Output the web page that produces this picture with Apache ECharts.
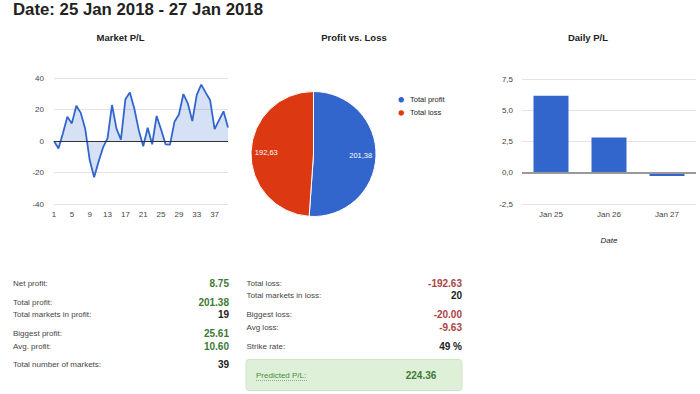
<!DOCTYPE html>
<html><head><meta charset="utf-8">
<script src="https://cdn.jsdelivr.net/npm/echarts/dist/echarts.min.js"></script>
<style>html,body{margin:0;padding:0;background:#fff}#c{width:700px;height:394px}</style>
</head><body><div id="c"></div>
<script>
// ---- data ----
const headerText = 'Date: 25 Jan 2018 - 27 Jan 2018';
const marketIdx = ['1','2','3','4','5','6','7','8','9','10','11','12','13','14','15','16','17','18','19','20',
  '21','22','23','24','25','26','27','28','29','30','31','32','33','34','35','36','37','38','39','40'];
const marketPL = [0, -4.7, 5, 15.5, 11.3, 22.5, 18, 7.8, -12, -23, -13, -4, 1.8, 23, 8, 1, 26.6, 31, 20.8, 7,
  -3.2, 8.5, -2, 16, 7.4, -2, -2.2, 12.3, 17, 30, 24, 12.8, 29.4, 36, 30.9, 26, 7.7, 13.4, 19, 8.75];
const pieNames = ['Total profit', 'Total loss'];
const pieValues = [201.38, 192.63];
const dayLabels = ['Jan 25', 'Jan 26', 'Jan 27'];
const dailyPL = [6.17, 2.83, -0.25];
const leftLabels = ['Net profit:', 'Total profit:', 'Total markets in profit:', 'Biggest profit:', 'Avg. profit:', 'Total number of markets:'];
const leftValues = ['8.75', '201.38', '19', '25.61', '10.60', '39'];
const leftKinds = ['pos', 'pos', 'plain', 'pos', 'pos', 'plain'];
const rightLabels = ['Total loss:', 'Total markets in loss:', 'Biggest loss:', 'Avg loss:', 'Strike rate:'];
const rightValues = ['-192.63', '20', '-20.00', '-9.63', '49 %'];
const rightKinds = ['neg', 'plain', 'neg', 'neg', 'plain'];
const predictedLabel = 'Predicted P/L:';
const predictedValue = '224.36';

// ---- layout / style ----
const F = 'Arial, "Liberation Sans", sans-serif';
const BLUE = '#3366cc', RED = '#dc3912';
const kindColor = {pos: '#3d7a35', neg: '#a94442', plain: '#222'};
const leftRowY = [283, 302.3, 314, 333.3, 346, 364.7];
const rightRowY = [283.3, 295, 314.3, 327.3, 346.7];

function txt(x, y, text, font, fill, align) {
  return {type: 'text', x: x, y: y, silent: true,
    style: {text: text, font: font, fill: fill, align: align || 'left', textAlign: align || 'left',
      verticalAlign: 'middle', textVerticalAlign: 'middle'}};
}
const g = [];
g.push(txt(13, 9.5, headerText, 'bold 16.8px ' + F, '#222'));
g.push(txt(120.5, 37, 'Market P/L', 'bold 9.5px ' + F, '#222', 'center'));
g.push(txt(354, 37, 'Profit vs. Loss', 'bold 9.5px ' + F, '#222', 'center'));
g.push(txt(588, 37, 'Daily P/L', 'bold 9.5px ' + F, '#222', 'center'));
leftLabels.forEach((l, i) => {
  g.push(txt(13, leftRowY[i], l, '8px ' + F, '#444'));
  g.push(txt(229, leftRowY[i], leftValues[i], 'bold 10px ' + F, kindColor[leftKinds[i]], 'right'));
});
rightLabels.forEach((l, i) => {
  g.push(txt(246.5, rightRowY[i], l, '8px ' + F, '#444'));
  g.push(txt(462, rightRowY[i], rightValues[i], 'bold 10px ' + F, kindColor[rightKinds[i]], 'right'));
});
g.push({type: 'rect', silent: true, shape: {x: 246, y: 359.5, width: 216, height: 31, r: 3},
  style: {fill: '#dff0d8', stroke: '#cfe6c4', lineWidth: 1}});
g.push(txt(256, 375.5, predictedLabel, '8px ' + F, '#4a8a44'));
g.push({type: 'line', silent: true, shape: {x1: 256, y1: 380.5, x2: 308, y2: 380.5},
  style: {stroke: '#6aa35f', lineWidth: 0.8, lineDash: [1, 1]}});
g.push(txt(421, 375.5, predictedValue, 'bold 10px ' + F, '#3d7a35', 'center'));

const axisLbl = {fontSize: 8, color: '#444', fontFamily: F};
const commaFmt = v => v.toFixed(1).replace('.', ',');

const option = {
  animation: false,
  textStyle: {fontFamily: F},
  graphic: g,
  legend: {
    data: pieNames, orient: 'vertical', left: 391.5, top: 90, icon: 'circle',
    itemWidth: 7.5, itemHeight: 7.5, itemGap: 3.7, textStyle: {fontSize: 7.5, color: '#222', fontFamily: F, lineHeight: 9},
    selectedMode: false
  },
  grid: [
    {left: 54, top: 78.3, width: 174, height: 125.7},
    {left: 522, top: 79, width: 174, height: 125.3}
  ],
  xAxis: [
    {type: 'category', gridIndex: 0, data: marketIdx, boundaryGap: false,
      axisLine: {show: false}, axisTick: {show: false},
      axisLabel: Object.assign({interval: 3, margin: 6}, axisLbl), splitLine: {show: false}},
    {type: 'category', gridIndex: 1, data: dayLabels,
      name: 'Date', nameLocation: 'middle', nameGap: 32,
      nameTextStyle: {fontSize: 8, fontStyle: 'italic', color: '#222', fontFamily: F},
      axisLine: {show: false}, axisTick: {show: false},
      axisLabel: Object.assign({margin: 6}, axisLbl)}
  ],
  yAxis: [
    {type: 'value', gridIndex: 0, min: -40, max: 40, interval: 20,
      axisLine: {show: false}, axisTick: {show: false},
      axisLabel: Object.assign({margin: 10}, axisLbl),
      splitLine: {lineStyle: {color: '#e3e3e3', width: 1}}},
    {type: 'value', gridIndex: 1, min: -2.5, max: 7.5, interval: 2.5,
      axisLine: {show: false}, axisTick: {show: false},
      axisLabel: Object.assign({margin: 9, formatter: commaFmt}, axisLbl),
      splitLine: {lineStyle: {color: '#e3e3e3', width: 1}}}
  ],
  series: [
    {type: 'line', xAxisIndex: 0, yAxisIndex: 0, data: marketPL, symbol: 'none',
      lineStyle: {color: BLUE, width: 1.8}, itemStyle: {color: BLUE},
      areaStyle: {color: 'rgba(51,102,204,0.28)'},
      markLine: {silent: true, symbol: 'none', label: {show: false},
        lineStyle: {color: '#333', width: 1, type: 'solid'}, data: [{yAxis: 0}]}},
    {type: 'bar', xAxisIndex: 1, yAxisIndex: 1, data: dailyPL, barWidth: 35,
      itemStyle: {color: BLUE},
      markLine: {silent: true, symbol: 'none', label: {show: false},
        lineStyle: {color: '#999', width: 2, type: 'solid'}, data: [{yAxis: 0}]}},
    {type: 'pie', center: [313.5, 154], radius: [0, 62.5], startAngle: 90, clockwise: true,
      data: pieNames.map((n, i) => ({name: n, value: pieValues[i], itemStyle: {color: [BLUE, RED][i]}})),
      itemStyle: {borderColor: '#fff', borderWidth: 1},
      label: {show: false}, labelLine: {show: false}, emphasis: {disabled: true}},
    {type: 'pie', center: [313.5, 154], radius: [26, 62.5], startAngle: 90, clockwise: true, silent: true,
      data: pieNames.map((n, i) => ({name: n, value: pieValues[i]})),
      itemStyle: {color: 'rgba(0,0,0,0)'},
      label: {show: true, position: 'inside', color: '#fff', fontSize: 7.5, fontFamily: F,
        formatter: p => p.value.toFixed(2).replace('.', ',')},
      labelLine: {show: false}, emphasis: {disabled: true}}
  ]
};
const chart = echarts.init(document.getElementById('c'), null, {renderer: 'svg'});
chart.setOption(option);
</script></body></html>
